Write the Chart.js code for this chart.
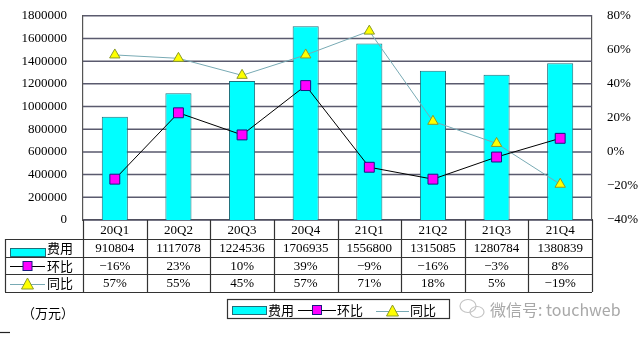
<!DOCTYPE html>
<html>
<head>
<meta charset="utf-8">
<script src="https://cdn.jsdelivr.net/npm/chart.js@4.4.1/dist/chart.umd.min.js"></script>
<style>
  html, body { margin: 0; padding: 0; background: #fff; }
  #wrap { width: 640px; height: 337px; position: relative; }
</style>
</head>
<body>
<div id="wrap"><canvas id="feiyong"></canvas></div>
<script>
const categories = ['20Q1', '20Q2', '20Q3', '20Q4', '21Q1', '21Q2', '21Q3', '21Q4'];
const expense = [910804, 1117078, 1224536, 1706935, 1556800, 1315085, 1280784, 1380839];
const qoq = [-16, 23, 10, 39, -9, -16, -3, 8];
const yoy = [57, 55, 45, 57, 71, 18, 5, -19];

const FONT = '"Liberation Serif", "Noto Sans CJK SC", serif';
const CJK = '"Noto Sans CJK SC", sans-serif';
const pct = v => (v < 0 ? '\u2212' + Math.abs(v) : v) + '%';

Chart.defaults.font.family = FONT;
Chart.defaults.font.size = 13;
Chart.defaults.color = '#000';

// horizontal gridlines behind the bars, one per left-axis tick
const gridPlugin = {
  id: 'gridPlugin',
  beforeDatasetsDraw(chart) {
    const ctx = chart.ctx;
    const y = chart.scales.y;
    const area = chart.chartArea;
    ctx.save();
    ctx.strokeStyle = '#5a5a6e';
    ctx.lineWidth = 1.5;
    ctx.beginPath();
    y.ticks.forEach(t => {
      const py = y.getPixelForValue(t.value);
      ctx.moveTo(area.left, py); ctx.lineTo(area.right, py);
    });
    ctx.stroke();
    ctx.restore();
  }
};

// category row, data table, legend box and watermark under the plot
const tablePlugin = {
  id: 'tablePlugin',
  afterDraw(chart) {
    const ctx = chart.ctx;
    const x = chart.scales.x;
    const area = chart.chartArea;
    const w = x.width / categories.length;
    const rows = [239, 257, 274, 292];
    const left = 5;

    ctx.save();
    ctx.strokeStyle = '#333';
    ctx.lineWidth = 1.2;
    ctx.beginPath();
    rows.forEach(r => { ctx.moveTo(left, r + 0.5); ctx.lineTo(area.right, r + 0.5); });
    ctx.moveTo(left + 0.5, rows[0]); ctx.lineTo(left + 0.5, rows[3]);
    for (let i = 0; i <= categories.length; i++) {
      const bx = Math.round(area.left + i * w) + 0.5;
      ctx.moveTo(bx, area.bottom); ctx.lineTo(bx, rows[3]);
    }
    ctx.stroke();

    // category labels and values
    ctx.fillStyle = '#000';
    ctx.textAlign = 'center';
    ctx.textBaseline = 'middle';
    ctx.font = '13px ' + FONT;
    categories.forEach((c, i) => {
      const cx = x.getPixelForValue(i);
      ctx.fillText(c, cx, (area.bottom + rows[0]) / 2 + 1);
      ctx.fillText(String(expense[i]), cx, (rows[0] + rows[1]) / 2 + 1);
      ctx.fillText(pct(qoq[i]), cx, (rows[1] + rows[2]) / 2 + 1);
      ctx.fillText(pct(yoy[i]), cx, (rows[2] + rows[3]) / 2 + 1);
    });

    // legend keys inside the table
    ctx.textAlign = 'left';
    ctx.font = '13px ' + CJK;
    drawBarKey(ctx, 10, 248, 35, 8);
    ctx.fillStyle = '#000';
    ctx.fillText('费用', 47, 248);
    drawLineKey(ctx, 10, 45, 266, '#000', 'rect');
    ctx.fillStyle = '#000';
    ctx.fillText('环比', 47, 266);
    drawLineKey(ctx, 10, 45, 284, '#78aab4', 'triangle');
    ctx.fillStyle = '#000';
    ctx.fillText('同比', 47, 283);

    // unit
    ctx.fillText('（万元）', 22, 313);

    // legend box
    ctx.strokeStyle = '#333';
    ctx.lineWidth = 1.2;
    ctx.strokeRect(227.5, 299.5, 222, 19);
    drawBarKey(ctx, 232, 306, 34, 8);
    ctx.fillStyle = '#000';
    ctx.fillText('费用', 268, 310);
    drawLineKey(ctx, 298, 336, 310, '#000', 'rect');
    ctx.fillStyle = '#000';
    ctx.fillText('环比', 337, 310);
    drawLineKey(ctx, 376, 409, 311, '#78aab4', 'triangle');
    ctx.fillStyle = '#000';
    ctx.fillText('同比', 410, 310);

    // watermark
    ctx.strokeStyle = '#c4c4c4';
    ctx.lineWidth = 1.2;
    ctx.beginPath();
    ctx.ellipse(468, 306, 8, 6.5, 0, 0, Math.PI * 2);
    ctx.stroke();
    ctx.beginPath();
    ctx.ellipse(477, 312, 7, 5.5, 0, 0, Math.PI * 2);
    ctx.stroke();
    ctx.fillStyle = '#a8a8a8';
    ctx.font = '16px ' + CJK;
    ctx.fillText('微信号: touchweb', 490, 310);

    // small stroke at the bottom left
    ctx.strokeStyle = '#222';
    ctx.lineWidth = 1.2;
    ctx.beginPath();
    ctx.moveTo(0, 332.5); ctx.lineTo(10, 332.5);
    ctx.stroke();
    ctx.restore();
  }
};

function drawBarKey(ctx, x0, y0, w, h) {
  ctx.fillStyle = '#00ffff';
  ctx.strokeStyle = '#1f6f7a';
  ctx.lineWidth = 1;
  ctx.fillRect(x0, y0, w, h);
  ctx.strokeRect(x0 + 0.5, y0 + 0.5, w, h);
}

function drawLineKey(ctx, x0, x1, y, color, shape) {
  ctx.strokeStyle = color;
  ctx.lineWidth = 1;
  ctx.beginPath();
  ctx.moveTo(x0, y + 0.5); ctx.lineTo(x1, y + 0.5);
  ctx.stroke();
  const cx = (x0 + x1) / 2;
  if (shape === 'rect') {
    ctx.fillStyle = '#ff00ff';
    ctx.strokeStyle = '#1a1a80';
    ctx.fillRect(cx - 4.5, y - 4.5, 9, 9);
    ctx.strokeRect(cx - 4.5, y - 4.5, 9, 9);
  } else {
    ctx.fillStyle = '#ffff00';
    ctx.strokeStyle = '#8a9a2a';
    ctx.beginPath();
    ctx.moveTo(cx, y - 6); ctx.lineTo(cx + 6, y + 5); ctx.lineTo(cx - 6, y + 5);
    ctx.closePath();
    ctx.fill();
    ctx.stroke();
  }
}

new Chart(document.getElementById('feiyong'), {
  type: 'bar',
  data: {
    labels: categories,
    datasets: [
      {
        type: 'line',
        label: '环比',
        data: qoq,
        yAxisID: 'y1',
        borderColor: '#000',
        borderWidth: 1,
        pointStyle: 'rect',
        pointRadius: 7,
        pointBackgroundColor: '#ff00ff',
        pointBorderColor: '#1a1a80',
        pointBorderWidth: 1,
        tension: 0,
        order: 1
      },
      {
        type: 'line',
        label: '同比',
        data: yoy,
        yAxisID: 'y1',
        borderColor: '#78aab4',
        borderWidth: 1,
        pointStyle: 'triangle',
        pointRadius: 6,
        pointBackgroundColor: '#ffff00',
        pointBorderColor: '#8a9a2a',
        pointBorderWidth: 1,
        tension: 0,
        order: 2
      },
      {
        label: '费用',
        data: expense,
        yAxisID: 'y',
        backgroundColor: '#00ffff',
        borderColor: '#1f6f7a',
        borderWidth: 1,
        categoryPercentage: 1,
        barPercentage: 0.41,
        order: 3
      }
    ]
  },
  options: {
    responsive: true,
    maintainAspectRatio: false,
    animation: false,
    layout: { padding: { top: 10, left: 0, right: 0, bottom: 0 } },
    plugins: {
      legend: { display: false },
      tooltip: { enabled: false }
    },
    scales: {
      x: {
        grid: { display: false },
        border: { display: true, color: '#333', width: 1.2 },
        ticks: { display: false },
        afterFit(scale) { scale.height = 117; }
      },
      y: {
        position: 'left',
        min: 0,
        max: 1800000,
        ticks: {
          stepSize: 200000,
          padding: 8,
          color: '#000',
          callback: v => v
        },
        grid: { display: false },
        border: { display: true, color: '#555', width: 1.2 },
        afterFit(scale) { scale.width = 83; }
      },
      y1: {
        position: 'right',
        min: -40,
        max: 80,
        ticks: {
          stepSize: 20,
          padding: 7,
          color: '#000',
          callback: v => pct(v)
        },
        grid: { display: false },
        border: { display: true, color: '#555', width: 1.2 },
        afterFit(scale) { scale.width = 48; }
      }
    }
  },
  plugins: [gridPlugin, tablePlugin]
});
</script>
</body>
</html>
